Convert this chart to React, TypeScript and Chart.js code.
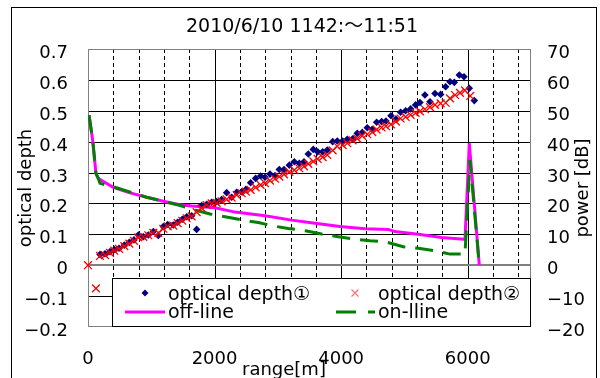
import React, { useEffect, useRef } from 'react';
import { Chart, registerables } from 'chart.js';

Chart.register(...registerables);

const titleText = '2010/6/10 1142:～11:51';
const xTitle = 'range[m]';
const yTitle = 'optical depth';
const y2Title = 'power [dB]';
const xTickLabels = [0, 2000, 4000, 6000];
const xMinorStep = 400;
const leftTicks = [-0.2, -0.1, 0, 0.1, 0.2, 0.3, 0.4, 0.5, 0.6, 0.7];
const rightTicks = [-20, -10, 0, 10, 20, 30, 40, 50, 60, 70];
const legendLabels = ['optical depth①', 'optical depth②', 'off-line', 'on-lline'];

const depth1Range = [190, 269, 348, 416, 490, 574, 653, 727, 795, 874, 953, 1032, 1111, 1190, 1259, 1348, 1417, 1490, 1559, 1638, 1717, 1796, 1875, 1954, 2033, 2112, 2191, 2270, 2349, 2428, 2496, 2570, 2649, 2728, 2797, 2876, 2955, 3023, 3097, 3181, 3260, 3339, 3413, 3481, 3560, 3629, 3708, 3781, 3866, 3939, 4024, 4097, 4182, 4255, 4334, 4413, 4492, 4561, 4640, 4708, 4787, 4866, 4940, 5019, 5098, 5177, 5245, 5324, 5404, 5483, 5572, 5651, 5720, 5788, 5867, 5941, 6025, 6104];
const depth1Values = [0.035, 0.037, 0.044, 0.051, 0.055, 0.065, 0.074, 0.082, 0.098, 0.092, 0.098, 0.109, 0.096, 0.125, 0.132, 0.130, 0.139, 0.149, 0.157, 0.160, 0.116, 0.193, 0.197, 0.204, 0.206, 0.213, 0.235, 0.220, 0.236, 0.238, 0.246, 0.267, 0.281, 0.289, 0.285, 0.295, 0.290, 0.310, 0.310, 0.324, 0.335, 0.330, 0.335, 0.360, 0.375, 0.367, 0.367, 0.373, 0.400, 0.402, 0.402, 0.408, 0.409, 0.427, 0.430, 0.445, 0.440, 0.463, 0.465, 0.467, 0.484, 0.473, 0.495, 0.500, 0.506, 0.519, 0.527, 0.551, 0.529, 0.556, 0.553, 0.578, 0.594, 0.592, 0.616, 0.610, 0.573, 0.533];

const depth2Range = [0, 126, 190, 269, 348, 416, 490, 574, 653, 727, 795, 874, 953, 1032, 1111, 1190, 1259, 1348, 1417, 1490, 1559, 1638, 1717, 1796, 1875, 1954, 2033, 2112, 2191, 2270, 2349, 2428, 2496, 2570, 2649, 2728, 2797, 2876, 2955, 3023, 3097, 3181, 3260, 3339, 3413, 3481, 3560, 3629, 3708, 3781, 3866, 3939, 4024, 4097, 4182, 4255, 4334, 4413, 4492, 4561, 4640, 4708, 4787, 4866, 4940, 5019, 5098, 5177, 5245, 5324, 5404, 5483, 5572, 5651, 5720, 5800, 5878, 5957, 6040];
const depth2Values = [0, -0.075, 0.030, 0.033, 0.040, 0.047, 0.053, 0.062, 0.070, 0.079, 0.090, 0.092, 0.097, 0.105, 0.105, 0.118, 0.126, 0.128, 0.136, 0.144, 0.152, 0.158, 0.172, 0.185, 0.195, 0.200, 0.202, 0.207, 0.213, 0.219, 0.228, 0.233, 0.238, 0.244, 0.252, 0.260, 0.266, 0.274, 0.280, 0.287, 0.294, 0.302, 0.308, 0.314, 0.320, 0.328, 0.336, 0.344, 0.350, 0.357, 0.372, 0.385, 0.389, 0.395, 0.404, 0.410, 0.419, 0.424, 0.431, 0.439, 0.446, 0.450, 0.456, 0.465, 0.475, 0.480, 0.487, 0.493, 0.498, 0.505, 0.512, 0.519, 0.524, 0.526, 0.540, 0.551, 0.558, 0.566, 0.548];

const offRange = [16, 74, 126, 163, 400, 637, 927, 1190, 1454, 1638, 2007, 2323, 2797, 3218, 3587, 3982, 4377, 4745, 4851, 5219, 5588, 5941, 5957, 6025, 6183];
const offPower = [48.6, 40.5, 29.7, 28.1, 25.2, 23.6, 22.0, 20.7, 19.6, 19.2, 18.6, 17.2, 16.0, 14.6, 13.6, 12.5, 11.8, 11.6, 10.9, 10.0, 9.0, 8.4, 8.4, 39.5, 0];

const onRange = [16, 74, 126, 163, 190, 400, 927, 1427, 1690, 1928, 2165, 2454, 2691, 2928, 3165, 3455, 3692, 3955, 4192, 4456, 4693, 4982, 5219, 5483, 5720, 5957, 6036, 6183];
const onPower = [48.6, 40.5, 29.7, 28.1, 26.5, 25.4, 22.0, 19.5, 17.9, 16.6, 15.7, 14.6, 13.8, 12.7, 11.9, 11.1, 10.1, 9.2, 8.5, 7.9, 7.6, 6.0, 5.5, 4.7, 3.6, 3.6, 34, 0];

const NAVY = '#000080';
const RED = '#FF0000';
const MAGENTA = '#FF00FF';
const GREEN = '#008000';
const FONT = "'DejaVu Sans', 'Noto Sans CJK JP', sans-serif";

const zip = (xs: number[], ys: number[]) => xs.map((x, i) => ({ x, y: ys[i] }));
const fmt = (v: number) => {
  const s = Number.isInteger(v) ? String(v) : v.toFixed(1);
  return s.replace('-', '\u2212');
};

const excelPlugin = {
  id: 'excelStyle',
  beforeDraw(chart: any) {
    const ctx = chart.ctx;
    ctx.save();
    ctx.fillStyle = '#ffffff';
    ctx.fillRect(0, 0, chart.width, chart.height);
    ctx.restore();
  },
  beforeDatasetsDraw(chart: any) {
    const { ctx, chartArea: a, scales } = chart;
    const xs = scales.x;
    const ys = scales.y;
    ctx.save();
    ctx.strokeStyle = '#000';
    ctx.lineWidth = 1;
    ctx.setLineDash([4, 3]);
    for (let v = xMinorStep; v < xs.max; v += xMinorStep) {
      if (v % 2000 === 0) continue;
      const px = Math.round(xs.getPixelForValue(v)) + 0.5;
      ctx.beginPath();
      ctx.moveTo(px, a.top);
      ctx.lineTo(px, a.bottom);
      ctx.stroke();
    }
    ctx.setLineDash([]);
    xTickLabels.forEach((v) => {
      if (v === 0) return;
      const px = Math.round(xs.getPixelForValue(v)) + 0.5;
      ctx.beginPath();
      ctx.moveTo(px, a.top);
      ctx.lineTo(px, a.bottom);
      ctx.stroke();
    });
    leftTicks.forEach((v) => {
      if (v === leftTicks[0] || v === leftTicks[leftTicks.length - 1] || v === 0) return;
      const py = Math.round(ys.getPixelForValue(v)) + 0.5;
      ctx.beginPath();
      ctx.moveTo(a.left, py);
      ctx.lineTo(a.right, py);
      ctx.stroke();
    });
    ctx.strokeStyle = '#808080';
    ctx.lineWidth = 2;
    const pz = Math.round(ys.getPixelForValue(0));
    ctx.beginPath();
    ctx.moveTo(a.left, pz);
    ctx.lineTo(a.right, pz);
    ctx.stroke();
    ctx.lineWidth = 1;
    ctx.strokeStyle = '#808080';
    ctx.strokeRect(Math.round(a.left) + 0.5, Math.round(a.top) + 0.5, Math.round(a.right - a.left) - 1, Math.round(a.bottom - a.top) - 1);
    ctx.restore();
  },
  afterDraw(chart: any) {
    const { ctx, chartArea: a, scales } = chart;
    const xs = scales.x;
    const ys = scales.y;
    const ys2 = scales.y2;
    ctx.save();
    const lx = a.left + 24;
    const ly = a.bottom - 49;
    const lw = a.right - 1 - lx;
    ctx.fillStyle = '#fff';
    ctx.fillRect(lx, ly, lw, 49);
    ctx.strokeStyle = '#000';
    ctx.lineWidth = 1;
    ctx.strokeRect(lx + 0.5, ly + 0.5, lw, 48);
    const row1 = ly + 15;
    const row2 = ly + 34;
    const col1 = lx + 56;
    const col2 = lx + 266;
    ctx.fillStyle = NAVY;
    ctx.beginPath();
    const dx = lx + 33;
    ctx.moveTo(dx, row1 - 3.5);
    ctx.lineTo(dx + 3.5, row1);
    ctx.lineTo(dx, row1 + 3.5);
    ctx.lineTo(dx - 3.5, row1);
    ctx.closePath();
    ctx.fill();
    const cx = lx + 243;
    ctx.strokeStyle = '#FF7070';
    ctx.lineWidth = 1.2;
    ctx.beginPath();
    ctx.moveTo(cx - 3.5, row1 - 3.5);
    ctx.lineTo(cx + 3.5, row1 + 3.5);
    ctx.moveTo(cx + 3.5, row1 - 3.5);
    ctx.lineTo(cx - 3.5, row1 + 3.5);
    ctx.stroke();
    ctx.strokeStyle = MAGENTA;
    ctx.lineWidth = 3;
    ctx.beginPath();
    ctx.moveTo(lx + 13, row2);
    ctx.lineTo(lx + 53, row2);
    ctx.stroke();
    ctx.strokeStyle = GREEN;
    ctx.beginPath();
    ctx.moveTo(lx + 224, row2);
    ctx.lineTo(lx + 244, row2);
    ctx.moveTo(lx + 256, row2);
    ctx.lineTo(lx + 263, row2);
    ctx.stroke();
    ctx.fillStyle = '#000';
    ctx.font = `19px ${FONT}`;
    ctx.textAlign = 'left';
    ctx.textBaseline = 'alphabetic';
    ctx.fillText(legendLabels[0], col1, row1 + 7);
    ctx.fillText(legendLabels[1], col2, row1 + 7);
    ctx.fillText(legendLabels[2], col1, row2 + 6);
    ctx.fillText(legendLabels[3], col2, row2 + 6);

    ctx.font = `19px ${FONT}`;
    ctx.textAlign = 'center';
    ctx.fillText(titleText, 302, 32);

    ctx.font = `18px ${FONT}`;
    xTickLabels.forEach((v) => {
      ctx.fillText(fmt(v), xs.getPixelForValue(v), a.bottom + 37);
    });
    ctx.textAlign = 'right';
    leftTicks.forEach((v) => {
      ctx.fillText(fmt(v), a.left - 20, ys.getPixelForValue(v) + 9);
    });
    ctx.textAlign = 'left';
    rightTicks.forEach((v) => {
      ctx.fillText(fmt(v), a.right + 16, ys2.getPixelForValue(v) + 9);
    });
    ctx.fillText(xTitle, 242, 375);
    const midY = (a.top + a.bottom) / 2;
    ctx.save();
    ctx.translate(31, midY);
    ctx.rotate(-Math.PI / 2);
    ctx.textAlign = 'center';
    ctx.fillText(yTitle, 0, 0);
    ctx.restore();
    ctx.save();
    ctx.translate(588, midY);
    ctx.rotate(-Math.PI / 2);
    ctx.textAlign = 'center';
    ctx.fillText(y2Title, 0, 0);
    ctx.restore();

    ctx.strokeStyle = '#000';
    ctx.lineWidth = 1;
    ctx.strokeRect(11.5, 7.5, 585, 400);
    ctx.restore();
  },
};

export default function App() {
  const canvasRef = useRef<HTMLCanvasElement | null>(null);

  useEffect(() => {
    document.body.style.margin = '0';
    const canvas = canvasRef.current;
    if (!canvas) return;
    const chart = new Chart(canvas, {
      type: 'scatter',
      data: {
        datasets: [
          {
            label: legendLabels[1],
            data: zip(depth2Range, depth2Values),
            yAxisID: 'y',
            pointStyle: 'crossRot',
            pointRadius: 5.5,
            borderColor: RED,
            backgroundColor: RED,
            borderWidth: 1.3,
            showLine: false,
            clip: false,
            order: 0,
          },
          {
            label: legendLabels[0],
            data: zip(depth1Range, depth1Values),
            yAxisID: 'y',
            pointStyle: 'rectRot',
            pointRadius: 3.8,
            borderColor: NAVY,
            backgroundColor: NAVY,
            borderWidth: 0,
            showLine: false,
            clip: false,
            order: 1,
          },
          {
            label: legendLabels[3],
            data: zip(onRange, onPower),
            yAxisID: 'y2',
            showLine: true,
            pointRadius: 0,
            borderColor: GREEN,
            backgroundColor: GREEN,
            borderWidth: 3,
            borderDash: [18, 10],
            tension: 0,
            order: 2,
          },
          {
            label: legendLabels[2],
            data: zip(offRange, offPower),
            yAxisID: 'y2',
            showLine: true,
            pointRadius: 0,
            borderColor: MAGENTA,
            backgroundColor: MAGENTA,
            borderWidth: 3,
            tension: 0,
            order: 3,
          },
        ],
      },
      options: {
        responsive: false,
        animation: false,
        devicePixelRatio: 1,
        layout: { padding: { left: 88, right: 69, top: 49, bottom: 51 } },
        plugins: {
          legend: { display: false },
          title: { display: false },
          tooltip: { enabled: false },
        },
        scales: {
          x: { type: 'linear', min: 0, max: 7000, display: false },
          y: { type: 'linear', min: -0.2, max: 0.7, display: false },
          y2: { type: 'linear', min: -20, max: 70, display: false, position: 'right' },
        },
      } as any,
      plugins: [excelPlugin],
    });
    return () => chart.destroy();
  }, []);

  return (
    <div style={{ width: 600, height: 378 }}>
      <canvas ref={canvasRef} width={600} height={378} style={{ display: 'block' }} />
    </div>
  );
}
